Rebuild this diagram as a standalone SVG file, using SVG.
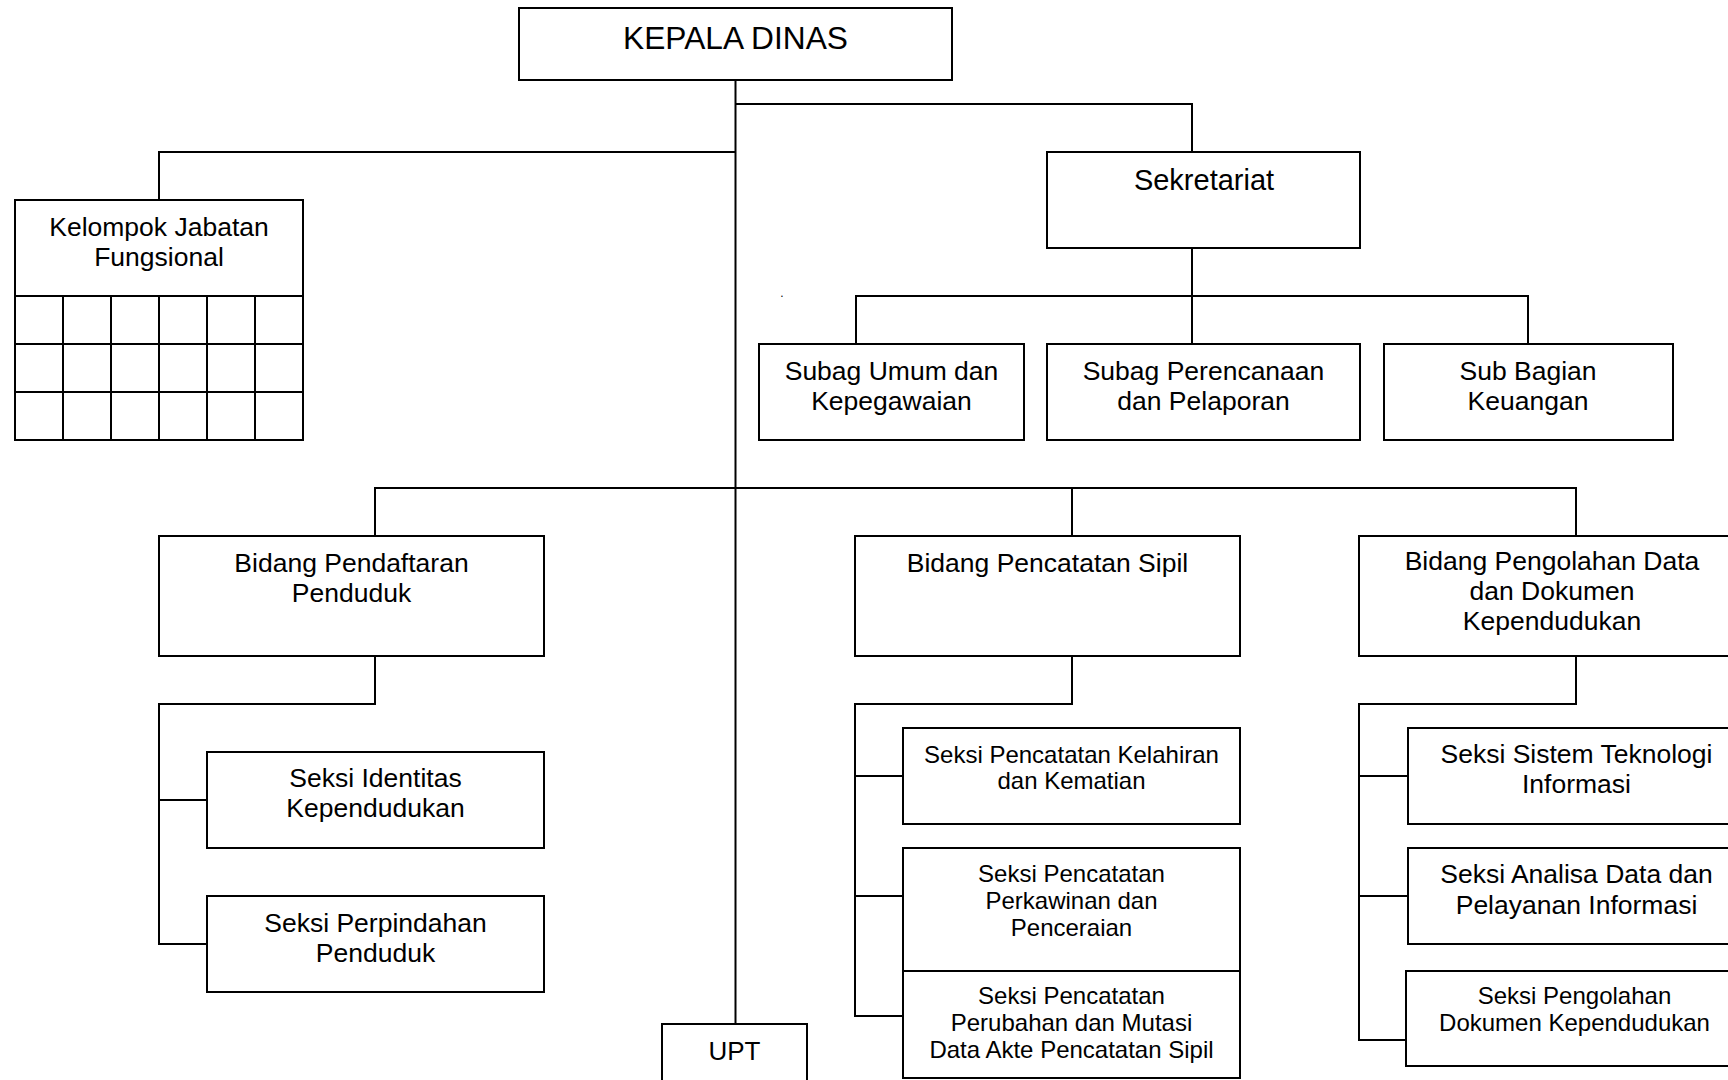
<svg xmlns="http://www.w3.org/2000/svg" width="1728" height="1080" viewBox="0 0 1728 1080">
  <style>
    .box { fill: #ffffff; stroke: #000000; stroke-width: 2; }
    .grid { fill: none; stroke: #000000; stroke-width: 2; }
    .conn { fill: none; stroke: #000000; stroke-width: 2; }
    text { font-family: "Liberation Sans", Arial, sans-serif; fill: #000000; text-anchor: middle; }
    .t { font-size: 26.5px; }
    .s { font-size: 24px; }
  </style>
  <rect width="1728" height="1080" fill="#ffffff"/>

  <!-- connectors -->
  <g id="connectors">
    <path class="conn" d="M735.5 80 V1024"/>
    <path class="conn" d="M735.5 104 H1192 V152"/>
    <path class="conn" d="M735.5 152 H159 V200"/>
    <path class="conn" d="M1192 248 V344"/>
    <path class="conn" d="M856 344 V296 H1528 V344"/>
    <path class="conn" d="M375 536 V488 H1576 V536"/>
    <path class="conn" d="M1072 488 V536"/>
    <path class="conn" d="M375 656 V704 H159 V944 H207"/>
    <path class="conn" d="M159 800 H207"/>
    <path class="conn" d="M1072 656 V704 H855 V1016 H903"/>
    <path class="conn" d="M855 776 H903"/>
    <path class="conn" d="M855 896 H903"/>
    <path class="conn" d="M1576 656 V704 H1359 V1040 H1406"/>
    <path class="conn" d="M1359 776 H1408"/>
    <path class="conn" d="M1359 896 H1408"/>
  </g>

  <g id="kepala-dinas">
    <rect class="box" x="519" y="8" width="433" height="72"/>
    <text x="735.5" y="49" style="font-size:31.7px">KEPALA DINAS</text>
  </g>

  <g id="kelompok-jabatan-fungsional">
    <rect class="box" x="15" y="200" width="288" height="240"/>
    <path class="grid" d="M15 296 H303 M15 344 H303 M15 392 H303 M63 296 V440 M111 296 V440 M159 296 V440 M207 296 V440 M255 296 V440"/>
    <text class="t" x="159" y="236">Kelompok Jabatan</text>
    <text class="t" x="159" y="266">Fungsional</text>
  </g>

  <g id="sekretariat">
    <rect class="box" x="1047" y="152" width="313" height="96"/>
    <text x="1204" y="190" style="font-size:29px">Sekretariat</text>
  </g>

  <text x="782" y="297" style="font-size:12px">.</text>

  <g id="subag-umum">
    <rect class="box" x="759" y="344" width="265" height="96"/>
    <text class="t" x="891.5" y="380">Subag Umum dan</text>
    <text class="t" x="891.5" y="409.5">Kepegawaian</text>
  </g>

  <g id="subag-perencanaan">
    <rect class="box" x="1047" y="344" width="313" height="96"/>
    <text class="t" x="1203.5" y="380">Subag Perencanaan</text>
    <text class="t" x="1203.5" y="409.5">dan Pelaporan</text>
  </g>

  <g id="sub-bagian-keuangan">
    <rect class="box" x="1384" y="344" width="289" height="96"/>
    <text class="t" x="1528" y="380">Sub Bagian</text>
    <text class="t" x="1528" y="409.5">Keuangan</text>
  </g>

  <g id="bidang-pendaftaran">
    <rect class="box" x="159" y="536" width="385" height="120"/>
    <text class="t" x="351.5" y="571.7">Bidang Pendaftaran</text>
    <text class="t" x="351.5" y="601.7">Penduduk</text>
  </g>

  <g id="bidang-pencatatan">
    <rect class="box" x="855" y="536" width="385" height="120"/>
    <text class="t" x="1047.5" y="571.8">Bidang Pencatatan Sipil</text>
  </g>

  <g id="bidang-pengolahan">
    <rect class="box" x="1359" y="536" width="386" height="120"/>
    <text class="t" x="1552" y="570.4">Bidang Pengolahan Data</text>
    <text class="t" x="1552" y="600.4">dan Dokumen</text>
    <text class="t" x="1552" y="630.3">Kependudukan</text>
  </g>

  <g id="seksi-identitas">
    <rect class="box" x="207" y="752" width="337" height="96"/>
    <text class="t" x="375.5" y="787.3">Seksi Identitas</text>
    <text class="t" x="375.5" y="817.3">Kependudukan</text>
  </g>

  <g id="seksi-perpindahan">
    <rect class="box" x="207" y="896" width="337" height="96"/>
    <text class="t" x="375.5" y="931.7">Seksi Perpindahan</text>
    <text class="t" x="375.5" y="961.7">Penduduk</text>
  </g>

  <g id="seksi-kelahiran">
    <rect class="box" x="903" y="728" width="337" height="96"/>
    <text class="s" x="1071.5" y="762.5">Seksi Pencatatan Kelahiran</text>
    <text class="s" x="1071.5" y="789">dan Kematian</text>
  </g>

  <g id="seksi-perkawinan">
    <rect class="box" x="903" y="848" width="337" height="123"/>
    <text class="s" x="1071.5" y="881.5">Seksi Pencatatan</text>
    <text class="s" x="1071.5" y="908.5">Perkawinan dan</text>
    <text class="s" x="1071.5" y="935.5">Penceraian</text>
  </g>

  <g id="seksi-perubahan">
    <rect class="box" x="903" y="971" width="337" height="107"/>
    <text class="s" x="1071.5" y="1004">Seksi Pencatatan</text>
    <text class="s" x="1071.5" y="1031">Perubahan dan Mutasi</text>
    <text class="s" x="1071.5" y="1057.5">Data Akte Pencatatan Sipil</text>
  </g>

  <g id="seksi-sistem">
    <rect class="box" x="1408" y="728" width="337" height="96"/>
    <text class="t" x="1576.5" y="763">Seksi Sistem Teknologi</text>
    <text class="t" x="1576.5" y="793">Informasi</text>
  </g>

  <g id="seksi-analisa">
    <rect class="box" x="1408" y="848" width="337" height="96"/>
    <text class="t" x="1576.5" y="883">Seksi Analisa Data dan</text>
    <text class="t" x="1576.5" y="913.5">Pelayanan Informasi</text>
  </g>

  <g id="seksi-pengolahan-dokumen">
    <rect class="box" x="1406" y="971" width="337" height="95"/>
    <text class="s" x="1574.5" y="1004">Seksi Pengolahan</text>
    <text class="s" x="1574.5" y="1030.5">Dokumen Kependudukan</text>
  </g>

  <g id="upt">
    <rect class="box" x="662" y="1024" width="145" height="66"/>
    <text x="734.5" y="1060" style="font-size:26px">UPT</text>
  </g>
</svg>
